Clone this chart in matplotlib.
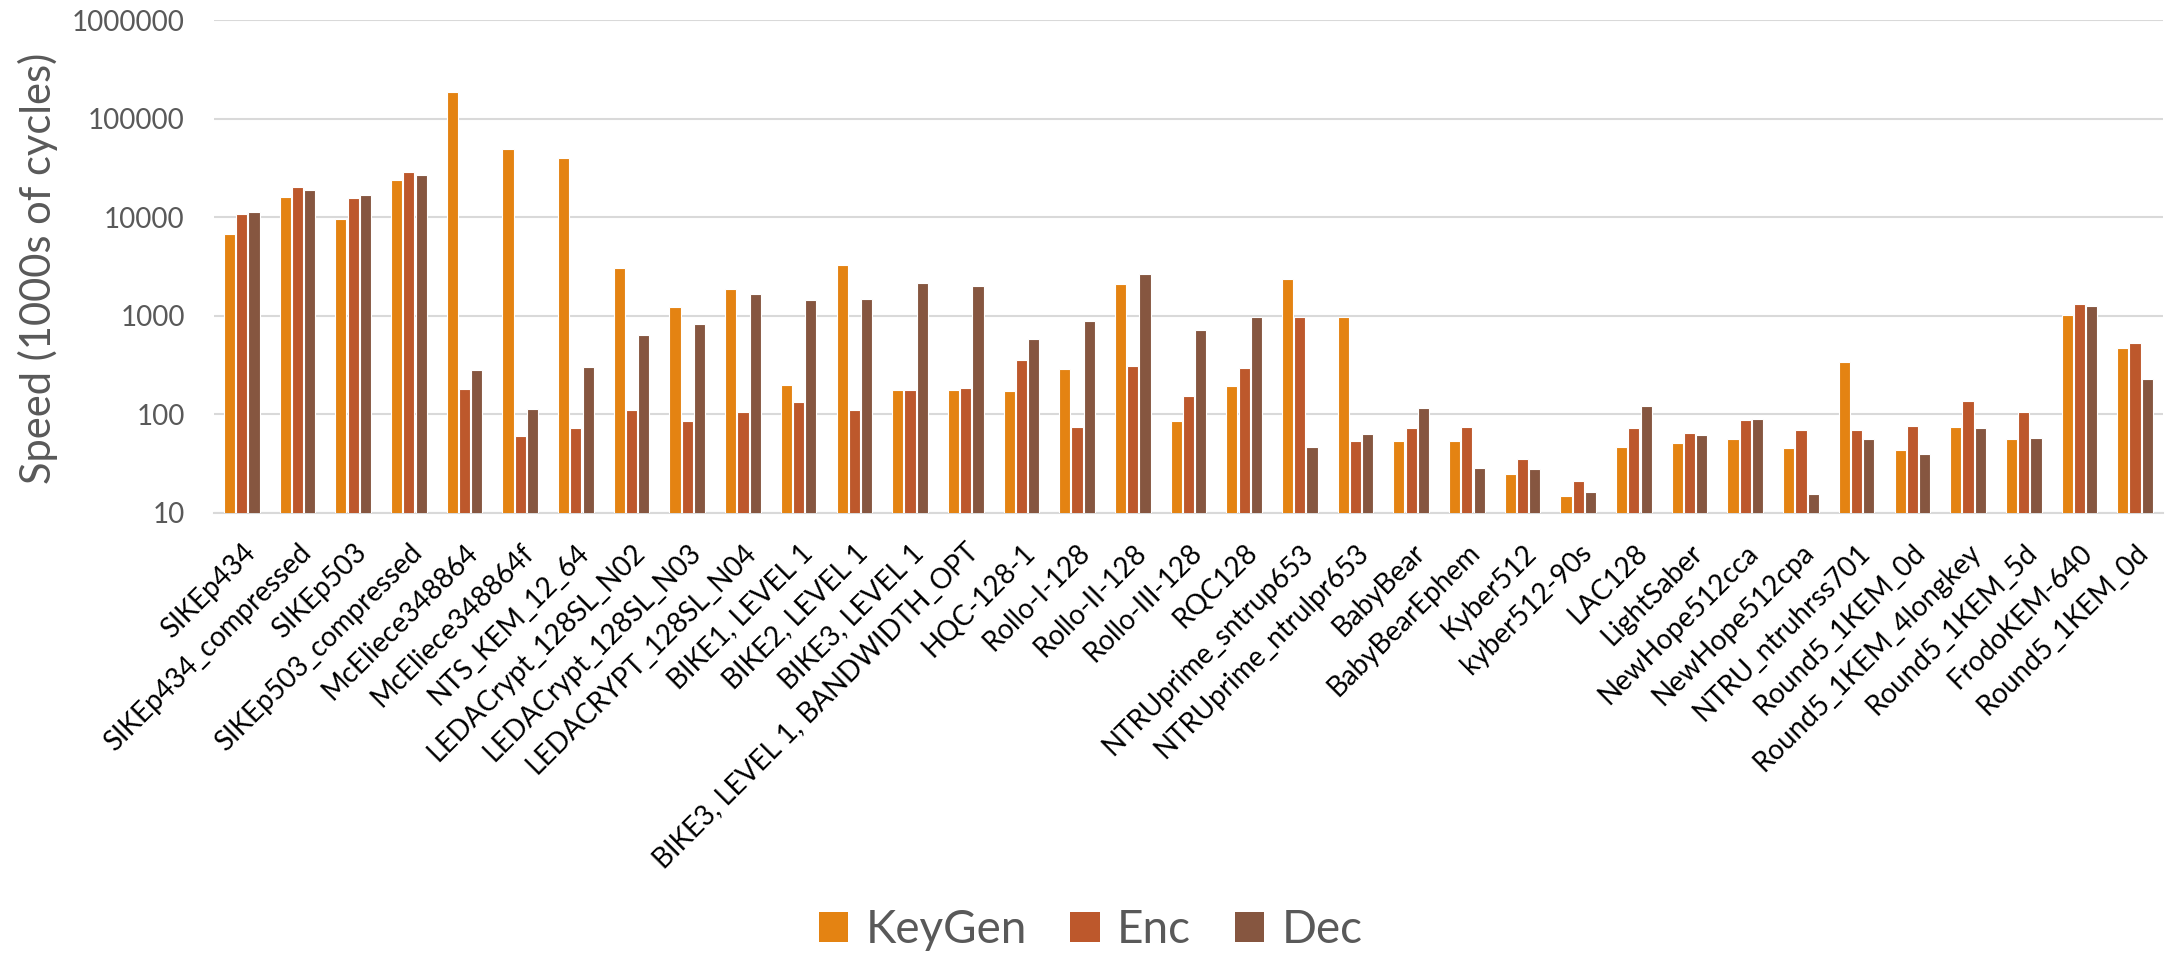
import numpy as np
import matplotlib
matplotlib.use("Agg")
import matplotlib.pyplot as plt
from matplotlib.ticker import FuncFormatter, FixedLocator, NullLocator
from matplotlib.patches import Patch

plt.rcParams['font.family'] = ['Lato', 'DejaVu Sans']

# KEM schemes and their timings (thousands of cycles)
schemes = [
    'SIKEp434', 'SIKEp434_compressed', 'SIKEp503', 'SIKEp503_compressed',
    'McEliece348864', 'McEliece348864f', 'NTS_KEM_12_64',
    'LEDACrypt_128SL_N02', 'LEDACrypt_128SL_N03', 'LEDACRYPT_128SL_N04',
    'BIKE1, LEVEL 1', 'BIKE2, LEVEL 1', 'BIKE3, LEVEL 1',
    'BIKE3, LEVEL 1, BANDWIDTH_OPT', 'HQC-128-1', 'Rollo-I-128',
    'Rollo-II-128', 'Rollo-III-128', 'RQC128', 'NTRUprime_sntrup653',
    'NTRUprime_ntrulpr653', 'BabyBear', 'BabyBearEphem', 'Kyber512',
    'kyber512-90s', 'LAC128', 'LightSaber', 'NewHope512cca',
    'NewHope512cpa', 'NTRU_ntruhrss701', 'Round5_1KEM_0d',
    'Round5_1KEM_4longkey', 'Round5_1KEM_5d', 'FrodoKEM-640',
    'Round5_1KEM_0d',
]
keygen = [6700, 16000, 9600, 24100, 186000, 49300, 40300,
          3060, 1240, 1860, 197, 3260, 178, 176, 172, 292,
          2090, 86, 194, 2360, 984, 54, 54, 24.6, 14.7,
          46.4, 50.7, 55.8, 46, 338, 43.5, 74.6, 56.7, 1016, 477]
enc = [10700, 20500, 15600, 29000, 179, 60, 73,
       111, 86, 105, 135, 111, 178, 185, 355, 75,
       309, 154, 295, 968, 54, 73, 74, 35.6, 21.1,
       72, 65, 88, 69.4, 69.4, 76.4, 137, 106, 1303, 530]
dec = [11400, 19100, 16800, 27000, 281, 113, 300,
       638, 818, 1660, 1436, 1471, 2163, 2013, 583, 879,
       2687, 719, 968, 46.8, 63, 117, 28.7, 28, 16.2,
       123, 62, 90, 15.6, 55.8, 39.5, 72, 57, 1253, 228]

series_names = ['KeyGen', 'Enc', 'Dec']
colors = ['#E48312', '#BD582C', '#865640']
grid_color = '#D9D9D9'
text_gray = '#595959'

fig = plt.figure(figsize=(21.81, 9.56), dpi=100)
ax = fig.add_axes([0.0981, 0.4634, 0.8936, 0.5156])

x = np.arange(len(schemes))
step = 0.22
for k, (vals, col) in enumerate(zip([keygen, enc, dec], colors)):
    ax.bar(x + (k - 1) * step, vals, width=0.2, color=col,
           edgecolor='white', linewidth=0.8, zorder=3)

ax.set_yscale('log')
ax.set_ylim(10, 1e6)
ax.set_xlim(-0.5, len(schemes) - 0.5)
ax.yaxis.set_major_locator(FixedLocator([10, 100, 1000, 10000, 100000, 1000000]))
ax.yaxis.set_minor_locator(NullLocator())
ax.yaxis.set_major_formatter(FuncFormatter(lambda v, _: f'{int(round(v))}'))
ax.grid(axis='y', color=grid_color, linewidth=1.5, zorder=0)
for s in ['top', 'right', 'left']:
    ax.spines[s].set_visible(False)
ax.spines['bottom'].set_color(grid_color)
ax.spines['bottom'].set_linewidth(1.5)
ax.tick_params(axis='y', length=0, pad=21, labelsize=20, labelcolor=text_gray)
ax.tick_params(axis='x', length=0, pad=19)

ax.set_xticks(x)
ax.set_xticklabels(schemes, rotation=45, ha='right', va='top',
                   rotation_mode='anchor', fontsize=20, color='black')

# axis title centred on the plot area
fig.text(0.0172, 0.719, 'Speed (1000s of cycles)', rotation=90,
         ha='center', va='center', fontsize=30, color=text_gray)

handles = [Patch(facecolor=c, edgecolor='none') for c in colors]
fig.legend(handles, series_names, loc='center', bbox_to_anchor=(0.5, 0.027),
           ncol=3, frameon=False, fontsize=33, labelcolor=text_gray,
           handlelength=0.65, handleheight=0.65, handletextpad=0.37,
           columnspacing=0.95)

fig.savefig('out.png', dpi=100)
